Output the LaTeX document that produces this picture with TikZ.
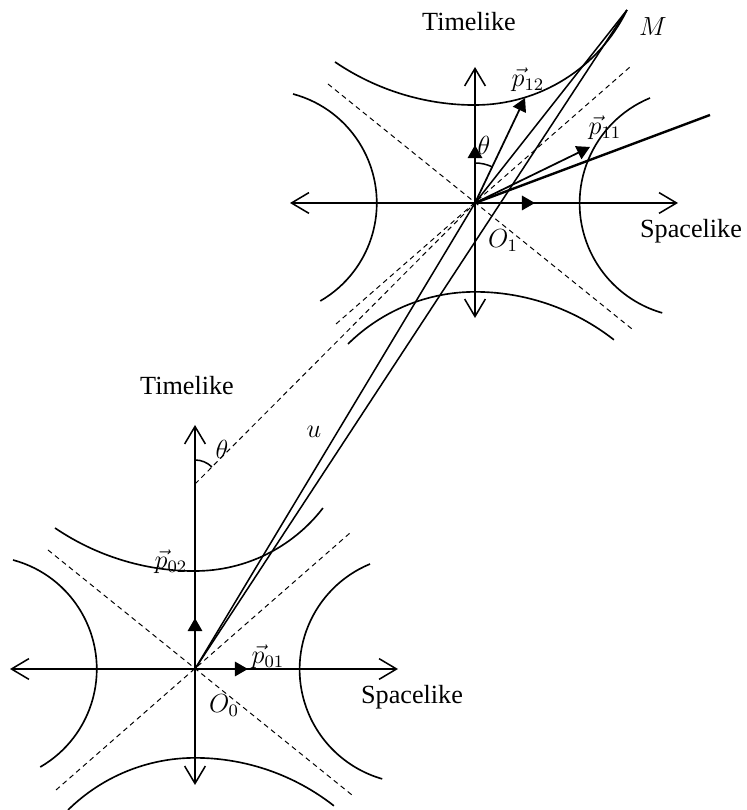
\documentclass[tikz,border=0pt,12pt]{standalone}
\usepackage{fontspec}
\setmainfont{Liberation Serif}
\usetikzlibrary{arrows.meta}

\begin{document}
\begin{tikzpicture}[
  x=0.0161cm, y=0.0161cm,
  every node/.style={inner sep=0pt},
  axisline/.style={{Straight Barb[length=8pt,width=9.5pt]}-{Straight Barb[length=8pt,width=9.5pt]}, line width=0.7pt},
  vecthick/.style={-{Triangle[length=6pt,width=6.5pt]}, line width=1.2pt},
  vecthin/.style={-{Triangle[length=6pt,width=6.5pt]}, line width=0.8pt},
  hyp/.style={line width=0.75pt},
  asym/.style={dash pattern=on 2.3pt off 1.8pt, line width=0.45pt},
  ray/.style={line width=0.7pt},
]
\useasboundingbox (0,0) rectangle (746,810);

% origins and end points
\coordinate (O0) at (195,141);
\coordinate (O1) at (475,607);
\coordinate (M) at (627,800);
\coordinate (T0) at (195,326);
\coordinate (K) at (710,695);

% hyperbolas and light cone of each frame
\foreach \o in {O0,O1}{
  \begin{scope}[shift={(\o)}]
    \draw[hyp] (-182,109) arc[start angle=75, end angle=-60, radius=113];
    \draw[hyp] (175,105) arc[start angle=112.5, end angle=254, radius=114];
    \draw[hyp] (-127,-141) arc[start angle=134.6, end angle=90, radius=181]
      arc[start angle=90, end angle=51.9, radius=225];
    \draw[hyp] (-140,141) arc[start angle=235.8, end angle=270, radius=249];
    \draw[asym] (-147,119) -- (157,-126);
    \draw[asym] (-139,-121) -- (155,136);
  \end{scope}
}
\begin{scope}[shift={(O0)}]
  \draw[hyp] (0,98) arc[start angle=270, end angle=322.4, radius=161.5];
\end{scope}
\begin{scope}[shift={(O1)}]
  \draw[hyp] (0,98) arc[start angle=270, end angle=334, radius=169];
\end{scope}

% axes
\coordinate (X0l) at (10,141);
\coordinate (X0r) at (398,141);
\coordinate (Y0b) at (195,25);
\coordinate (Y0t) at (195,385);
\coordinate (X1l) at (290,607);
\coordinate (X1r) at (678,607);
\coordinate (Y1b) at (475,492);
\coordinate (Y1t) at (475,743);
\draw[axisline] (X0l) -- (X0r);
\draw[axisline] (Y0b) -- (Y0t);
\draw[axisline] (X1l) -- (X1r);
\draw[axisline] (Y1b) -- (Y1t);

% vectors
\coordinate (P01) at (248,141);
\coordinate (P02) at (195,192);
\coordinate (E1x) at (535,607);
\coordinate (E1t) at (475,665);
\coordinate (P11) at (590,663);
\coordinate (P12) at (525,712);
\draw[vecthick] (O0) -- (P01);
\draw[vecthick] (O0) -- (P02);
\draw[vecthick] (O1) -- (E1x);
\draw[vecthick] (O1) -- (E1t);
\draw[vecthin] (O1) -- (P11);
\draw[vecthin] (O1) -- (P12);

% world lines
\draw[asym] (T0) -- (O1);
\draw[ray] (O0) -- (O1);
\draw[ray] (O0) -- (M);
\draw[ray] (O1) -- (M);
\draw[line width=1.1pt] (O1) -- (K);
\draw[ray] ([shift={(90:24)}]T0) arc[start angle=90, end angle=45, radius=24];
\draw[ray] ([shift={(90:40)}]O1) arc[start angle=90, end angle=64.5, radius=40];

% labels
\node (tl0) at (187,424) {Timelike};
\node (sl0) at (412,113) {Spacelike};
\node (o0) at (224,104) {$O_0$};
\node (p01l) at (268,153) {$\vec{p}_{01}$};
\node (p02l) at (171,248) {$\vec{p}_{02}$};
\node (th0) at (222,361) {$\theta$};
\node (ul) at (314,378) {$u$};
\node (tl1) at (469,788) {Timelike};
\node (sl1) at (691,579) {Spacelike};
\node (o1) at (503,569) {$O_1$};
\node (p11l) at (605,682) {$\vec{p}_{11}$};
\node (p12l) at (528,730) {$\vec{p}_{12}$};
\node (th1) at (484,665) {$\theta$};
\node (ml) at (653,783) {$M$};

\end{tikzpicture}
\end{document}
